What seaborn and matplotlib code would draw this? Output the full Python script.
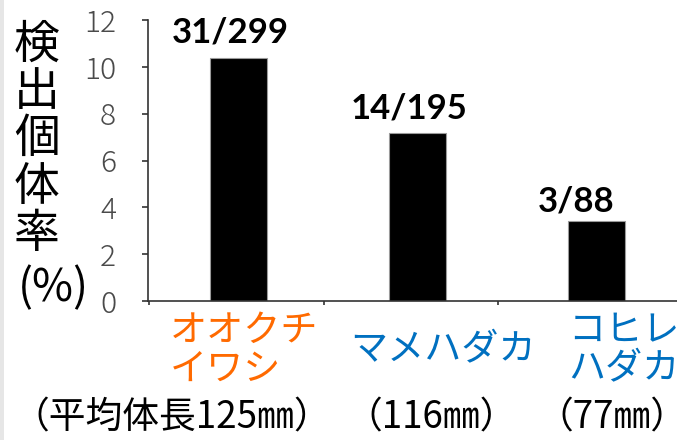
import matplotlib
matplotlib.use("Agg")
import matplotlib.pyplot as plt
from matplotlib.patches import Rectangle
from matplotlib.transforms import blended_transform_factory
import pandas as pd
import seaborn as sns

# --- data -------------------------------------------------------------
species = ["オオクチ\nイワシ", "マメハダカ", "コヒレ\nハダカ"]
species_colors = ["#FF6A00", "#0070C0", "#0070C0"]
detected = [31, 14, 3]
examined = [299, 195, 88]
length_labels = ["（平均体長125㎜）", "（116㎜）", "（77㎜）"]
y_ticks = [0, 2, 4, 6, 8, 10, 12]
ylabel_chars = ["検", "出", "個", "体", "率"]
ylabel_unit = "(%)"

rate = [100 * d / n for d, n in zip(detected, examined)]
df = pd.DataFrame({"species": species, "rate": rate})

# --- layout (pixels of a 677x440 canvas) -------------------------------
W, H = 677, 440
sns.set_theme(style="ticks")
plt.rcParams["font.family"] = ["Noto Sans CJK JP", "DejaVu Sans"]

fig = plt.figure(figsize=(W / 100, H / 100), dpi=100)
fig.patch.set_facecolor("white")
fig.patches.append(Rectangle((0, 0), 4 / W, 1, transform=fig.transFigure,
                             facecolor="#e6e6e6", edgecolor="none"))

ax = fig.add_axes([148 / W, 1 - 301 / H, 1 - 148 / W, (301 - 20) / H])
sns.barplot(data=df, x="species", y="rate", color="black", saturation=1,
            width=0.32, edgecolor="#9a9a9a", linewidth=0.8, ax=ax)

ax.set_xlim(-0.506, 2.45)
ax.set_ylim(0, 12)
ax.set_xlabel("")
ax.set_ylabel("")
for side in ("top", "right"):
    ax.spines[side].set_visible(False)
for side in ("left", "bottom"):
    ax.spines[side].set_color("#333333")
    ax.spines[side].set_linewidth(1.2)

ax.set_xticks([-0.5, 0.475, 1.45])
ax.set_xticklabels([])
ax.tick_params(axis="x", direction="out", length=3, width=1.2, color="#333333")
ax.set_yticks(y_ticks)
ax.set_yticklabels([str(t) for t in y_ticks], fontsize=21.5, color="#4a4a4a",
                   fontweight="light")
ax.tick_params(axis="y", direction="out", length=4, width=1.2, color="#333333",
               pad=19)

# counts above each bar
label_dx = [-6, -6, -15]
label_dy = [11.5, 10.5, 7]
for i, (d, n, r) in enumerate(zip(detected, examined, rate)):
    ax.annotate(f"{d}/{n}", xy=(i, r), xytext=(label_dx[i], label_dy[i]),
                textcoords="offset points", ha="center", va="baseline",
                fontsize=25, fontweight="bold", family=["Lato", "DejaVu Sans"],
                color="black")

# species names and mean body length under the axis
mix = blended_transform_factory(ax.transData, fig.transFigure)
name_dx = [-0.383, -0.377, -0.16]
for i, (name, col) in enumerate(zip(species, species_colors)):
    ax.text(i + name_dx[i], 1 - 350 / H, name, transform=mix, ha="left",
            va="center", fontsize=26.7, color=col, linespacing=0.98,
            multialignment="left", clip_on=False)

len_dx = [-0.372, 0.075, 0.085]
for i, lab in enumerate(length_labels):
    ax.text(i + len_dx[i], 1 - 418 / H, lab, transform=mix, ha="center",
            va="center", fontsize=26.5, color="black", clip_on=False)

# vertical axis title, one character per line
for k, ch in enumerate(ylabel_chars):
    fig.text(37 / W, 1 - (44 + 47.5 * k) / H, ch, ha="center", va="center",
             fontsize=33, color="black")
fig.text(53 / W, 1 - 288 / H, ylabel_unit, ha="center", va="center",
         fontsize=32, color="black")

fig.savefig("out.png", dpi=100)
